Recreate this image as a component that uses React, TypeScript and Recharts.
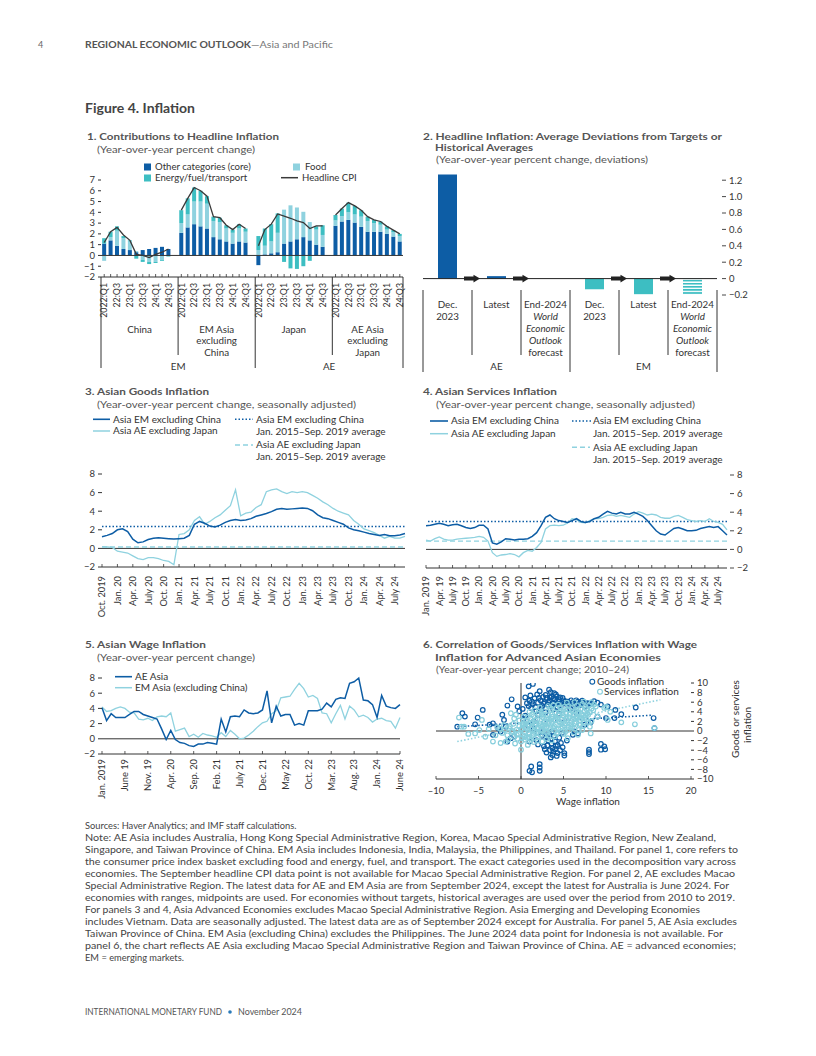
import React from 'react';
import {
  ComposedChart,
  LineChart,
  ScatterChart,
  Bar,
  Line,
  Scatter,
  XAxis,
  YAxis,
  ReferenceLine,
  Cell,
} from 'recharts';

const FONT = 'Lato, "Noto Sans", "DejaVu Sans", sans-serif';
const DARK = '#0D5DA5';
const TEAL = '#3DBEC2';
const LIGHT = '#8FD2DF';
const SERV_RING = '#86CEDC';
const INK = '#333333';
const HEAD = '#3a3a3a';

// ---------- panel 1: contributions to headline inflation ----------
const P1_GROUP_LINES = [['China'], ['EM Asia', 'excluding', 'China'], ['Japan'], ['AE Asia', 'excluding', 'Japan']];
const P1_QUARTERS = ['2022:Q1', '', '22:Q3', '', '23:Q1', '', '23:Q3', '', '24:Q1', '', '24:Q3'];
const P1_YTICKS = [-2, -1, 0, 1, 2, 3, 4, 5, 6, 7];

const CN_CORE = [1.1, 1.4, 0.9, 0.6, 0.5, 0.3, 0.5, 0.6, 0.7, 0.8, 0.6];
const CN_FOOD = [-0.5, 0.3, 1.4, 1.0, 0.8, 0.1, -0.4, -0.6, -0.6, -0.4, 0.0];
const CN_ENERGY = [0.5, 0.5, 0.4, 0.2, 0.1, -0.3, -0.2, -0.2, -0.1, -0.1, -0.1];
const CN_HEAD = [1.2, 2.2, 2.6, 1.9, 1.4, 0.1, 0.0, -0.2, 0.1, 0.3, 0.6];

const EM_CORE = [2.1, 2.6, 2.9, 2.7, 2.5, 1.7, 1.5, 1.3, 1.1, 1.3, 1.2];
const EM_FOOD = [0.9, 1.2, 2.1, 2.3, 2.3, 1.5, 1.6, 1.2, 1.0, 1.2, 1.0];
const EM_ENERGY = [1.2, 1.5, 1.3, 1.0, 0.7, 0.4, 0.4, 0.3, 0.3, 0.4, 0.3];
const EM_HEAD = [4.2, 5.3, 6.3, 6.0, 5.5, 3.6, 3.5, 2.8, 2.4, 2.9, 2.5];

const JP_CORE = [-0.9, 0.1, 0.2, 0.3, 1.1, 1.3, 1.5, 1.7, 1.4, 1.0, 0.8];
const JP_FOOD = [0.5, 0.8, 1.1, 1.8, 3.15, 3.35, 2.95, 2.35, 1.7, 1.4, 1.1];
const JP_ENERGY = [1.3, 1.6, 1.6, 1.8, -0.6, -1.2, -1.25, -1.0, -0.5, 0.3, 0.9];
const JP_HEAD = [0.9, 2.4, 2.9, 3.85, 3.65, 3.45, 3.2, 3.05, 2.5, 2.75, 2.75];

const AE_CORE = [2.75, 3.15, 3.3, 3.05, 2.65, 2.2, 2.2, 2.2, 2.0, 1.75, 1.3];
const AE_FOOD = [0.5, 0.5, 0.7, 0.75, 0.95, 1.0, 0.8, 0.65, 0.4, 0.4, 0.5];
const AE_ENERGY = [0.5, 0.7, 0.9, 0.8, 0.6, 0.4, 0.3, 0.3, 0.3, 0.2, 0.2];
const AE_HEAD = [3.75, 4.35, 4.9, 4.6, 4.2, 3.6, 3.3, 3.15, 2.7, 2.35, 2.0];

const P1_SETS = [
  { core: CN_CORE, food: CN_FOOD, energy: CN_ENERGY, head: CN_HEAD },
  { core: EM_CORE, food: EM_FOOD, energy: EM_ENERGY, head: EM_HEAD },
  { core: JP_CORE, food: JP_FOOD, energy: JP_ENERGY, head: JP_HEAD },
  { core: AE_CORE, food: AE_FOOD, energy: AE_ENERGY, head: AE_HEAD },
];
const P1_SUPER = ['EM', '', 'AE'];

const P1_ROWS: any[] = [];
P1_SETS.forEach((s, g) => {
  P1_QUARTERS.forEach((q, i) => {
    P1_ROWS.push({
      key: `${g}-${i}`,
      lbl: q,
      core: s.core[i],
      food: s.food[i],
      energy: s.energy[i],
      head: s.head[i],
      grp: i === 5 ? P1_GROUP_LINES[g] : undefined,
      grpShift: g < 3,
    });
  });
  if (g < P1_SETS.length - 1) {
    P1_ROWS.push({
      key: `gap${g}`,
      gap: true,
      sep: g === 1 ? 'long' : 'short',
      sup: P1_SUPER[g] || undefined,
      supShift: g === 0,
    });
  }
});

// ---------- panel 2: deviations from targets ----------
const P2_CATS = ['AE Dec', 'AE Latest', 'AE WEO', 'EM Dec', 'EM Latest', 'EM WEO'];
const P2_VALUES = [1.27, 0.03, 0, -0.13, -0.19, -0.19];
const P2_KIND = ['ae', 'ae', 'ae', 'em', 'em', 'emf'];
const P2_ARROW = [null, 0, 0, null, 0, 0];
const P2_LABELS = [
  ['Dec.', '2023'],
  ['Latest'],
  ['End-2024', 'World', 'Economic', 'Outlook', 'forecast'],
  ['Dec.', '2023'],
  ['Latest'],
  ['End-2024', 'World', 'Economic', 'Outlook', 'forecast'],
];
const P2_GROUP = ['', 'AE', '', '', 'EM', ''];
const P2_RTICKS = [-0.2, 0, 0.2, 0.4, 0.6, 0.8, 1.0, 1.2];
const P2_LTICKS = [0.2, 0.4, 0.6, 0.8, 1.0, 1.2];

const P2_ROWS = P2_CATS.map((cat, i) => ({
  cat,
  v: P2_VALUES[i],
  kind: P2_KIND[i],
  arrow: P2_ARROW[i],
  lines: P2_LABELS[i],
  grp: P2_GROUP[i],
}));

// ---------- panel 3: goods inflation (Oct 2019 - Sep 2024) ----------
const P3_TICKS = ['Oct. 2019', 'Jan. 20', 'Apr. 20', 'July 20', 'Oct. 20', 'Jan. 21', 'Apr. 21', 'July 21', 'Oct. 21',
  'Jan. 22', 'Apr. 22', 'July 22', 'Oct. 22', 'Jan. 23', 'Apr. 23', 'July 23', 'Oct. 23', 'Jan. 24', 'Apr. 24', 'July 24'];
const GOODS_EM = [
  1.26, 1.4, 1.6,
  2.0, 2.1, 1.8, 1.0, 0.6, 0.7, 0.95, 1.1, 1.15, 1.1, 1.05, 1.0,
  1.05, 1.1, 1.4, 2.6, 2.9, 2.7, 2.4, 2.3, 2.5, 2.8, 3.0, 3.1,
  3.0, 3.05, 3.2, 3.45, 3.6, 3.75, 3.95, 4.2, 4.3, 4.2, 4.25, 4.3,
  4.35, 4.3, 4.05, 3.6, 3.3, 3.2, 3.0, 2.8, 2.6, 2.2, 2.0, 1.9,
  1.75, 1.6, 1.5, 1.4, 1.5, 1.35, 1.35, 1.45, 1.6,
];
const GOODS_AE = [
  0.2, 0.15, 0.1,
  -0.3, -0.4, -0.5, -0.8, -1.1, -1.2, -1.0, -1.0, -1.1, -1.3, -1.4, -1.75,
  1.5, 1.6, 2.0, 3.0, 3.4, 2.6, 2.9, 3.3, 3.6, 4.1, 4.6, 6.3,
  3.5, 3.8, 3.9, 4.4, 4.7, 6.1, 6.3, 6.4, 6.1, 5.9, 6.1, 6.0,
  6.1, 6.0, 5.7, 5.4, 5.0, 4.7, 4.3, 4.0, 3.8, 3.6, 3.0, 2.6,
  2.1, 1.9, 1.7, 1.4, 1.1, 1.3, 1.1, 1.1, 1.3,
];
const GOODS_EM_AVG = 2.35;
const GOODS_AE_AVG = 0.15;
const P3_ROWS = GOODS_EM.map((v, i) => ({
  m: `m${i}`,
  em: v,
  ae: GOODS_AE[i],
  lbl: i % 3 === 0 ? P3_TICKS[i / 3] : '',
}));

// ---------- panel 4: services inflation (Jan 2019 - Sep 2024) ----------
const P4_TICKS = ['Jan. 2019', 'Apr. 19', 'July 19', 'Oct. 19', 'Jan. 20', 'Apr. 20', 'July 20', 'Oct. 20', 'Jan. 21',
  'Apr. 21', 'July 21', 'Oct. 21', 'Jan. 22', 'Apr. 22', 'July 22', 'Oct. 22', 'Jan. 23', 'Apr. 23', 'July 23',
  'Oct. 23', 'Jan. 24', 'Apr. 24', 'July 24'];
const SERV_EM = [
  2.55, 2.6, 2.7, 2.8, 2.7, 2.55, 2.65, 2.7, 2.55, 2.35, 2.25, 2.35,
  2.6, 2.6, 2.2, 0.7, 0.55, 0.8, 1.15, 1.1, 1.0, 1.1, 1.1, 1.15,
  1.4, 1.8, 2.55, 3.45, 3.7, 3.3, 3.1, 3.0, 2.9, 3.1, 3.3, 3.0,
  2.9, 3.0, 3.3, 3.45, 3.8, 4.1, 3.9, 3.8, 4.0, 3.8, 3.8, 4.0,
  3.8, 3.55, 3.1, 2.55, 2.0, 1.65, 1.55, 1.9, 2.25, 2.35, 2.2, 2.0,
  2.0, 2.05, 2.25, 2.35, 2.45, 2.35, 2.45, 2.0, 1.55,
];
const SERV_AE = [
  1.0, 0.9, 1.15, 1.35, 1.1, 1.0, 1.0, 1.1, 1.15, 1.2, 1.25, 1.3,
  1.4, 1.3, 0.9, -0.35, -0.75, -0.6, -0.55, -0.45, -0.55, -0.8, -0.35, -0.1,
  -0.2, 0.2, 0.75, 2.2, 2.55, 2.6, 2.55, 2.6, 2.85, 3.3, 3.2, 2.9,
  2.85, 3.1, 3.3, 3.3, 3.45, 3.65, 3.7, 3.55, 3.65, 3.55, 3.45, 3.8,
  4.05, 3.9, 3.7, 3.8, 3.7, 3.45, 3.35, 3.35, 3.55, 3.65, 3.45, 3.2,
  3.1, 3.0, 3.1, 3.0, 3.3, 3.0, 2.9, 2.7, 2.1,
];
const SERV_EM_AVG = 3.0;
const SERV_AE_AVG = 0.9;
const P4_ROWS = SERV_EM.map((v, i) => ({
  m: `m${i}`,
  em: v,
  ae: SERV_AE[i],
  lbl: i % 3 === 0 ? P4_TICKS[i / 3] : '',
}));

// ---------- panel 5: wage inflation (Jan 2019 - June 2024) ----------
const P5_TICKS = ['Jan. 2019', 'June 19', 'Nov. 19', 'Apr. 20', 'Sep. 20', 'Feb. 21', 'July 21', 'Dec. 21', 'May 22',
  'Oct. 22', 'Mar. 23', 'Aug. 23', 'Jan. 24', 'June 24'];
const WAGE_AE = [
  4.1, 2.4, 3.3, 2.8, 2.8, 2.8, 3.2, 3.6, 3.6, 3.2, 3.0, 2.8,
  2.6, 1.3, -0.1, 1.1, -0.1, -0.5, -0.6, -0.9, -1.0, -0.7, -0.7, -0.5,
  -0.6, -0.7, 2.6, 0.9, 2.9, 3.0, 2.9, 3.8, 3.4, 3.3, 3.4, 3.8,
  6.3, 2.1, 4.3, 3.0, 3.2, 3.2, 1.8, 2.0, 1.8, 3.7, 3.7, 3.7,
  3.9, 4.7, 4.2, 5.2, 5.4, 5.3, 7.3, 7.5, 8.0, 5.1, 5.0, 4.5,
  2.8, 5.7, 4.3, 4.1, 4.0, 4.5,
];
const WAGE_EM = [
  4.2, 3.6, 3.7, 4.0, 4.2, 4.0, 3.5, 3.4, 2.6, 2.5, 2.7, 2.4,
  2.9, 3.0, 2.9, 3.4, 1.0, 1.2, 1.4, 0.3, 0.6, 0.2, 0.7, 0.5,
  0.4, 0.2, 0.8, 0.3, 1.1, 0.6, 0.0, 0.1, 0.5, 1.0, 1.6, 2.1,
  2.3, 3.3, 3.7, 5.4, 5.5, 5.6, 6.5, 7.3, 6.6, 5.5, 5.7, 5.3,
  3.4, 3.3, 2.1, 3.3, 4.4, 2.6, 4.3, 3.8, 2.9, 3.1, 2.8, 2.2,
  2.6, 2.7, 2.4, 2.3, 1.4, 2.8,
];
const P5_ROWS = WAGE_AE.map((v, i) => ({
  m: `m${i}`,
  ae: v,
  em: WAGE_EM[i],
  lbl: i % 5 === 0 ? P5_TICKS[i / 5] : '',
}));
const Y_TICKS_8 = [-2, 0, 2, 4, 6, 8];

// ---------- panel 6: scatter ----------
const GOODS_PTS_RAW = [
  [-7.5, 0.9], [-6.9, 3.7], [-6.6, 3.0], [-5.4, 1.4], [-5.1, 2.8], [-4.5, 4.4], [-3.7, 1.3], [-3.3, 1.6],
  [-3.3, -0.8], [-2.7, 0.6], [-2.4, -0.1], [-2.2, 3.4], [-2.0, 2.3], [-1.8, 0.9], [-1.6, -2.2], [-1.6, 5.3],
  [-1.2, -1.5], [-1.1, 6.6], [-0.8, -1.1], [-0.4, 5.1], [-0.2, 4.1], [0.3, 2.5], [0.5, 3.2], [0.9, 9.3],
  [1.4, 9.8], [0.7, 5.8], [1.0, 6.3], [1.2, 4.8], [1.4, 5.6], [1.6, 6.8], [1.8, 4.2], [2.0, 5.9], [2.2, 8.3],
  [2.3, 6.4], [2.5, 5.2], [2.6, 7.1], [2.8, 6.0], [3.0, 6.9], [3.1, 5.5], [3.3, 8.6], [3.4, 6.3], [3.5, 8.1],
  [3.6, 7.2], [3.7, 5.8], [3.9, 7.9], [4.0, 6.6], [4.1, 7.6], [4.2, 5.6], [4.4, 6.2], [4.6, 7.0], [4.8, 5.9],
  [5.0, 6.4], [5.3, 5.7], [5.5, 6.1], [5.8, 5.6], [6.1, 6.0], [6.4, 5.5], [6.7, 6.1], [7.0, 5.4], [7.3, 5.9],
  [7.6, 5.2], [8.0, 5.7], [8.6, 6.2], [9.4, 5.5], [10.2, 5.1], [11.1, 4.4], [11.8, 3.5], [13.5, 4.9],
  [10.0, 2.7], [11.0, 2.7], [8.2, 1.8], [7.5, 1.3], [15.6, 2.7], [15.7, 0.6], [9.0, 3.0], [6.5, 3.8],
  [5.8, 4.6], [2.0, 3.3], [1.5, 2.0], [0.8, 1.2], [2.9, 3.9], [3.8, 4.5], [4.5, 3.6],
  [0.2, 4.6], [0.5, 7.0], [0.9, 5.2], [1.1, 7.4], [1.3, 6.1], [1.7, 5.0], [1.9, 7.6], [2.1, 6.9], [2.4, 4.6],
  [2.7, 5.7], [2.9, 7.5], [3.2, 6.0], [3.4, 7.0], [3.6, 5.2], [3.8, 6.8], [4.2, 7.2], [4.3, 5.0], [4.5, 6.6],
  [4.7, 5.4], [4.9, 6.9], [5.2, 6.2], [5.6, 5.2], [5.9, 6.4], [6.2, 5.2], [6.5, 6.4], [6.9, 5.7], [7.2, 6.3],
  [7.8, 5.8], [8.3, 5.6], [9.0, 5.9],
  [2.7, -3.2], [2.8, -3.8], [3.0, -1.2], [3.2, -2.0], [3.3, -0.6], [3.5, -1.6], [3.6, -2.6], [3.7, -3.6],
  [3.8, -4.3], [3.9, -1.0], [4.0, -2.2], [4.1, -3.1], [4.3, -2.9], [4.3, -4.6], [3.7, -5.0], [4.5, -1.4],
  [4.7, -2.5], [4.9, -3.4], [5.1, -4.6], [5.1, -5.1], [5.4, -2.0], [6.1, -0.8], [6.3, -0.1], [6.7, -0.5],
  [1.0, -2.2], [1.8, -1.9], [1.2, -7.4], [1.0, -8.3], [1.3, -8.6], [2.2, -6.9], [2.2, -7.6], [2.2, -8.3],
  [8.0, -3.9], [8.0, -4.4], [8.0, -4.8], [9.4, -2.7], [9.8, -3.2], [9.4, -3.9], [9.9, -3.8], [2.5, -1.0],
  [2.0, -0.4], [1.5, 0.5], [4.8, -0.4], [2.0, -2.8], [3.1, -3.0], [3.4, -4.0], [4.0, -3.8], [4.6, -4.0],
  [3.0, -4.5], [3.5, -5.5], [4.2, -5.2], [2.6, -0.2], [3.6, -0.2],
];
const SERV_PTS_RAW = [
  [-7.3, 2.8], [-7.0, 0.9], [-6.7, 0.9], [-6.2, -0.6], [-5.4, -0.5], [-4.9, 0.2], [-4.6, 2.3], [-4.2, -1.2],
  [-3.8, 0.4], [-3.3, -2.2], [-3.0, -0.9], [-2.8, 0.8], [-2.4, -2.5], [-2.2, -0.4], [-2.0, 1.2], [-1.8, -2.2],
  [-1.6, -0.9], [-1.5, -1.8], [-1.4, 0.6], [-1.2, 3.7], [-1.1, -0.2], [-0.9, 1.5], [-0.8, -1.2], [-0.6, 3.4],
  [-0.5, 0.3], [-0.3, -0.6], [-0.2, 1.0], [0.0, -3.9], [0.0, -2.2], [0.1, 0.5], [0.2, -0.8], [0.3, 1.6],
  [0.4, -0.2], [0.5, 0.9], [0.6, 2.1], [0.7, -1.4], [0.8, -2.9], [0.8, 0.2], [0.9, 1.3], [1.0, -0.6],
  [1.1, 2.6], [1.2, 0.7], [1.3, -1.0], [1.4, 1.9], [1.5, 3.1], [1.6, 0.1], [1.7, 1.2], [1.8, -0.3],
  [1.9, 2.4], [2.0, 0.8], [2.1, 3.6], [2.2, 1.6], [2.3, -0.8], [2.4, 0.4], [2.5, 2.9], [2.6, 1.1],
  [2.7, 4.1], [2.8, 2.0], [2.9, -0.2], [3.0, 0.9], [3.1, 3.3], [3.2, 1.5], [3.3, 2.5], [3.4, 0.2],
  [3.5, 4.4], [3.6, 1.9], [3.7, 3.0], [3.8, 0.7], [3.9, 2.3], [4.0, 3.8], [4.1, 1.3], [4.2, 4.7],
  [4.3, 2.7], [4.4, 0.4], [4.5, 3.4], [4.6, 1.8], [4.7, 4.2], [4.8, 2.4], [4.9, 0.9], [5.0, 3.1],
  [5.1, 5.0], [5.2, 1.6], [5.3, 3.8], [5.4, 2.2], [5.5, -1.5], [5.5, 4.5], [5.6, 0.8], [5.7, 2.9],
  [5.8, 3.6], [5.9, 1.4], [6.0, 4.9], [6.1, 2.5], [6.2, 3.3], [6.3, 0.5], [6.4, 4.2], [6.5, 1.9],
  [6.6, 5.3], [6.7, -0.8], [6.7, 2.8], [6.8, 3.9], [6.9, 1.2], [7.0, 4.6], [7.1, 2.7], [7.2, 5.6],
  [7.3, 3.2], [7.4, 1.7], [7.5, 4.1], [7.6, 5.0], [7.7, 2.4], [7.8, 3.7], [7.9, 3.4], [8.0, 5.3],
  [8.2, -0.5], [8.3, 2.1], [8.5, 4.3], [8.6, 5.5], [8.8, 5.1], [9.0, 3.0], [9.8, 4.8], [10.0, 5.0],
  [10.2, 2.3], [10.5, 4.0], [11.8, 1.8], [13.4, 1.4], [15.7, 0.6], [8.1, 0.9], [7.2, 0.2], [6.2, -0.3],
  [5.0, -0.6], [4.0, -1.1], [3.0, -1.6], [2.0, -1.3], [1.5, -2.3], [0.5, -1.8], [-0.7, -2.6], [0.3, 3.0],
  [1.0, 4.0], [2.2, 4.9], [3.2, 5.2], [4.4, 5.5], [5.4, 5.9], [6.3, 6.0], [7.4, 6.1], [8.3, 6.0],
  [2.5, -2.2], [3.6, -2.0], [1.2, -1.9],
  [-1.0, 0.0], [-0.5, -0.8], [0.0, 0.3], [0.2, 1.2], [0.4, -1.2], [0.6, 0.6], [0.9, -0.3], [1.1, 1.7],
  [1.3, 0.3], [1.5, -0.6], [1.7, 2.2], [1.9, 0.5], [2.1, -0.5], [2.3, 1.2], [2.5, 0.1], [2.7, 2.6],
  [2.9, 1.4], [3.1, -0.4], [3.3, 1.9], [3.5, 0.6], [3.7, 3.5], [3.9, 1.0], [4.1, 2.9], [4.3, -0.3],
  [4.5, 2.0], [4.7, 0.6], [4.9, 3.7], [5.1, 1.2], [5.3, 2.6], [5.5, 0.2], [5.7, 3.4], [5.9, 2.1],
  [6.1, 4.1], [6.3, 1.6], [6.5, 3.0], [6.7, 4.5], [6.9, 2.2], [7.1, 3.5], [7.3, 1.0], [7.5, 2.9],
  [7.7, 4.6], [7.9, 1.9], [8.1, 3.9], [8.3, 4.7], [1.6, 4.3], [2.4, 3.8], [3.4, 4.8], [4.6, 4.9],
  [5.6, 5.2], [0.8, 2.8], [-0.2, 2.2], [-0.8, 2.6], [0.1, -1.5], [1.0, -1.5], [2.0, -2.0], [3.2, -1.0],
  [4.2, -0.6], [5.2, -0.2], [6.0, 0.8], [7.0, 1.4], [3.0, 2.8], [4.0, 0.1], [2.6, 3.4], [5.0, 4.4],
  [6.4, 2.6], [7.6, 3.3], [1.3, 3.5], [0.5, 1.6], [-1.3, 1.0], [-1.9, 0.2], [-2.5, 0.5], [-0.4, -1.6],
  [3.8, 5.4], [4.8, 1.5], [5.8, 1.0], [6.8, 0.2], [2.8, 0.5], [1.8, 1.5], [3.6, 2.6], [4.4, 3.2],
];
const GOODS_PTS = GOODS_PTS_RAW.map(([x, y]) => ({ x, y }));
const SERV_PTS = SERV_PTS_RAW.map(([x, y]) => ({ x, y }));
const GOODS_TREND = [{ x: -7.5, y: 0.9 }, { x: 15.5, y: 3.3 }];
const SERV_TREND = [{ x: -7.5, y: -2.2 }, { x: 16.4, y: 6.5 }];
const P6_XTICKS = [-10, -5, 0, 5, 10, 15, 20];
const P6_YTICKS = [-10, -8, -6, -4, -2, 0, 2, 4, 6, 8, 10];

// ---------- notes ----------
const NOTES = [
  ['Sources: Haver Analytics; and IMF staff calculations.', 0],
  ['Note: AE Asia includes Australia, Hong Kong Special Administrative Region, Korea, Macao Special Administrative Region, New Zealand,', 631],
  ['Singapore, and Taiwan Province of China. EM Asia includes Indonesia, India, Malaysia, the Philippines, and Thailand. For panel 1, core refers to', 653],
  ['the consumer price index basket excluding food and energy, fuel, and transport. The exact categories used in the decomposition vary across', 651],
  ['economies. The September headline CPI data point is not available for Macao Special Administrative Region. For panel 2, AE excludes Macao', 650],
  ['Special Administrative Region. The latest data for AE and EM Asia are from September 2024, except the latest for Australia is June 2024. For', 644],
  ['economies with ranges, midpoints are used. For economies without targets, historical averages are used over the period from 2010 to 2019.', 650],
  ['For panels 3 and 4, Asia Advanced Economies excludes Macao Special Administrative Region. Asia Emerging and Developing Economies', 615],
  ['includes Vietnam. Data are seasonally adjusted. The latest data are as of September 2024 except for Australia. For panel 5, AE Asia excludes', 652],
  ['Taiwan Province of China. EM Asia (excluding China) excludes the Philippines. The June 2024 data point for Indonesia is not available. For', 638],
  ['panel 6, the chart reflects AE Asia excluding Macao Special Administrative Region and Taiwan Province of China. AE = advanced economies;', 651],
  ['EM = emerging markets.', 0],
];

const neg = (v: number) => (v < 0 ? `\u2212${-v}` : `${v}`);
const axisTick = { fontSize: 9.5, fill: INK, fontFamily: FONT };

function Txt({ x, y, s = 9.5, b = false, it = false, c = '#444', a = 'start', len, children }: any) {
  return (
    <text
      x={x}
      y={y + s * 0.34}
      fontSize={s}
      fontWeight={b ? 700 : 400}
      fontStyle={it ? 'italic' : 'normal'}
      fill={c}
      textAnchor={a}
      textLength={len || undefined}
      lengthAdjust={len ? 'spacingAndGlyphs' : undefined}
      fontFamily={FONT}
    >
      {children}
    </text>
  );
}

// right-hand value labels drawn as "– 1.2", with the dash set a little off the plot edge
function makeRightTick(gap: number, fmt: (v: number) => string) {
  return (props: any) => {
    const { x, y, payload } = props;
    return (
      <g>
        <line x1={x + gap} x2={x + gap + 4} y1={y} y2={y} stroke={INK} strokeWidth={0.9} />
        <text x={x + gap + 7} y={y + 3.3} fontSize={9.5} fill={INK} fontFamily={FONT}>
          {fmt(payload.value)}
        </text>
      </g>
    );
  };
}

const P1_BAND = 302 / 47;
function P1Tick(props: any) {
  const { x, y, index } = props;
  const row = P1_ROWS[index];
  if (!row) return <g />;
  const h = P1_BAND / 2;
  return (
    <g fontFamily={FONT}>
      {!row.gap && <line x1={x} x2={x} y1={y} y2={y - 3} stroke={INK} strokeWidth={0.8} />}
      {row.lbl && (
        <text transform={`translate(${x + 3.2},${y + 6}) rotate(-90)`} textAnchor="end" fontSize={8.8} fill={INK}>
          {row.lbl}
        </text>
      )}
      {row.sep && <line x1={x + h} x2={x + h} y1={y} y2={y + (row.sep === 'long' ? 91 : 78)} stroke={INK} />}
      {index === 0 && <line x1={x - h} x2={x - h} y1={y} y2={y + 91} stroke={INK} />}
      {index === P1_ROWS.length - 1 && <line x1={x + h} x2={x + h} y1={y} y2={y + 91} stroke={INK} />}
      {row.grp &&
        row.grp.map((t: string, k: number) => (
          <text key={k} x={x + (row.grpShift ? h : 0)} y={y + 55.5 + 11.7 * k} textAnchor="middle" fontSize={9.8} fill={INK}>
            {t}
          </text>
        ))}
      {row.sup && (
        <text x={x + (row.supShift ? h : 0)} y={y + 93} textAnchor="middle" fontSize={9.8} fill={INK}>
          {row.sup}
        </text>
      )}
    </g>
  );
}

const P2_BAND = 294 / 6;
function P2Tick(props: any) {
  const { x, y, index } = props;
  const row = P2_ROWS[index];
  if (!row) return <g />;
  const h = P2_BAND / 2;
  const start = index === 0 || index === 3;
  return (
    <g fontFamily={FONT}>
      <line x1={x - h} x2={x - h} y1={y - 5} y2={y + (start ? 77 : 60)} stroke={INK} />
      {index === P2_ROWS.length - 1 && <line x1={x + h} x2={x + h} y1={y - 5} y2={y + 77} stroke={INK} />}
      {row.lines.map((t: string, k: number) => (
        <text
          key={k}
          x={x}
          y={y + 12.5 + 12 * k}
          textAnchor="middle"
          fontSize={9.8}
          fontStyle={row.lines.length > 2 && k >= 1 && k <= 3 ? 'italic' : 'normal'}
          fill={INK}
        >
          {t}
        </text>
      ))}
      {row.grp && (
        <text x={x} y={y + 75} textAnchor="middle" fontSize={9.8} fill={INK}>
          {row.grp}
        </text>
      )}
    </g>
  );
}

function ArrowDot(p: any) {
  if (p.payload == null || p.payload.arrow == null || p.cy == null || isNaN(p.cy)) return <g key={`a${p.index}`} />;
  const cx = p.cx - P2_BAND / 2;
  const cy = p.cy;
  const pts = [
    [cx - 8, cy - 2],
    [cx + 1.5, cy - 2],
    [cx + 1.5, cy - 3.8],
    [cx + 8, cy],
    [cx + 1.5, cy + 3.8],
    [cx + 1.5, cy + 2],
    [cx - 8, cy + 2],
  ]
    .map((q) => q.join(','))
    .join(' ');
  return <polygon key={`a${p.index}`} points={pts} fill="#222" />;
}

function makeMonthTick(rows: any[], dy: number) {
  return (props: any) => {
    const { x, y, index } = props;
    const lbl = rows[index] ? rows[index].lbl : '';
    if (!lbl) return <g />;
    return (
      <g>
        <line x1={x} x2={x} y1={y} y2={y - 3} stroke={INK} strokeWidth={0.8} />
        <text
          transform={`translate(${x + 3.3},${y + dy}) rotate(-90)`}
          textAnchor="end"
          fontSize={9.3}
          fill={INK}
          fontFamily={FONT}
        >
          {lbl}
        </text>
      </g>
    );
  };
}
const P3Tick = makeMonthTick(P3_ROWS, 9);
const P4Tick = makeMonthTick(P4_ROWS, 8);
const P5Tick = makeMonthTick(P5_ROWS, 5);

function P6Tick(props: any) {
  const { x, y, payload } = props;
  const v = payload.value;
  return (
    <g>
      <line x1={x} x2={x} y1={y} y2={y - 3} stroke={INK} strokeWidth={0.8} />
      <text x={x} y={y + 14.5} textAnchor="middle" fontSize={9.5} fill={INK} fontFamily={FONT}>
        {v < 0 ? `\u2013${-v}` : v}
      </text>
    </g>
  );
}

const ring = (color: string) => (p: any) =>
  <circle cx={p.cx} cy={p.cy} r={2.3} fill="none" stroke={color} strokeWidth={1.2} />;

const P2RightTick = makeRightTick(5, (v) => (v === 0 ? '0' : v < 0 ? `\u2212${(-v).toFixed(1)}` : v.toFixed(1)));
const P4RightTick = makeRightTick(3, neg);

function Panel1() {
  return (
    <div style={{ position: 'absolute', left: 61, top: 170 }}>
      <ComposedChart
        width={362}
        height={207}
        data={P1_ROWS}
        stackOffset="sign"
        barCategoryGap="18%"
        margin={{ top: 10, right: 0, bottom: 0, left: 0 }}
      >
        <XAxis dataKey="key" interval={0} tick={P1Tick} tickLine={false} tickSize={0} tickMargin={0} height={100} axisLine={{ stroke: INK }} />
        <YAxis yAxisId="l" domain={[-2, 7]} ticks={P1_YTICKS} width={40} axisLine={false} tickSize={3} tickMargin={3}
          tickLine={{ stroke: INK }} tick={axisTick} tickFormatter={neg} interval={0} />
        <YAxis yAxisId="r" orientation="right" domain={[-2, 7]} ticks={P1_YTICKS} width={20} axisLine={false}
          tickSize={3} tickLine={{ stroke: INK }} tick={false} interval={0} />
        <Bar yAxisId="l" dataKey="core" stackId="s" fill={DARK} isAnimationActive={false} />
        <Bar yAxisId="l" dataKey="food" stackId="s" fill={LIGHT} isAnimationActive={false} />
        <Bar yAxisId="l" dataKey="energy" stackId="s" fill={TEAL} isAnimationActive={false} />
        <ReferenceLine yAxisId="l" y={0} stroke={INK} />
        <Line yAxisId="l" dataKey="head" stroke={HEAD} strokeWidth={1.3} dot={false} activeDot={false} isAnimationActive={false} />
      </ComposedChart>
    </div>
  );
}

function Panel2() {
  return (
    <div style={{ position: 'absolute', left: 405, top: 162 }}>
      <ComposedChart width={362} height={218} data={P2_ROWS} margin={{ top: 10, right: 0, bottom: 0, left: 0 }}>
        <defs>
          <pattern id="hatch" width="4" height="3.1" patternUnits="userSpaceOnUse">
            <rect width="4" height="1.7" fill={TEAL} />
          </pattern>
        </defs>
        <XAxis dataKey="cat" interval={0} tick={P2Tick} tickLine={false} axisLine={false} tickSize={0} tickMargin={0} height={85} />
        <YAxis yAxisId="l" domain={[-0.2, 1.3]} ticks={P2_LTICKS} width={18} axisLine={false} tickSize={4}
          tickLine={{ stroke: INK }} tick={false} interval={0} />
        <YAxis yAxisId="r" orientation="right" domain={[-0.2, 1.3]} ticks={P2_RTICKS} width={50} axisLine={false}
          tickSize={0} tickMargin={0} tickLine={false} tick={P2RightTick} interval={0} />
        <Bar yAxisId="r" dataKey="v" barSize={19} isAnimationActive={false}>
          {P2_ROWS.map((r, i) => (
            <Cell key={i} fill={r.kind === 'ae' ? DARK : r.kind === 'em' ? TEAL : 'url(#hatch)'} />
          ))}
        </Bar>
        <ReferenceLine yAxisId="r" y={0} stroke="#222" />
        <Line yAxisId="r" dataKey="arrow" stroke="none" dot={ArrowDot} activeDot={false} isAnimationActive={false} />
      </ComposedChart>
    </div>
  );
}

function Panel3() {
  return (
    <div style={{ position: 'absolute', left: 60, top: 464 }}>
      <LineChart width={359} height={163} data={P3_ROWS} margin={{ top: 10, right: 0, bottom: 0, left: 0 }}>
        <XAxis dataKey="m" interval={0} tick={P3Tick} tickLine={false} tickSize={0} tickMargin={0} height={60} axisLine={{ stroke: INK }} />
        <YAxis yAxisId="l" domain={[-2, 8]} ticks={Y_TICKS_8} width={42} axisLine={false} tickSize={4} tickMargin={3}
          tickLine={{ stroke: INK }} tick={axisTick} tickFormatter={neg} interval={0} />
        <YAxis yAxisId="r" orientation="right" domain={[-2, 8]} ticks={Y_TICKS_8} width={14} axisLine={false}
          tickSize={3} tickLine={{ stroke: INK }} tick={false} interval={0} />
        <ReferenceLine yAxisId="l" y={0} stroke={INK} />
        <ReferenceLine yAxisId="l" y={GOODS_EM_AVG} stroke={DARK} strokeWidth={1.6} strokeDasharray="1.5 2" />
        <ReferenceLine yAxisId="l" y={GOODS_AE_AVG} stroke={LIGHT} strokeWidth={1.3} strokeDasharray="5 3" />
        <Line yAxisId="l" dataKey="ae" stroke={LIGHT} strokeWidth={1.3} dot={false} activeDot={false} isAnimationActive={false} />
        <Line yAxisId="l" dataKey="em" stroke={DARK} strokeWidth={1.5} dot={false} activeDot={false} isAnimationActive={false} />
      </LineChart>
    </div>
  );
}

function Panel4() {
  return (
    <div style={{ position: 'absolute', left: 408, top: 465 }}>
      <LineChart width={365} height={163} data={P4_ROWS} margin={{ top: 10, right: 0, bottom: 0, left: 0 }}>
        <XAxis dataKey="m" interval={0} tick={P4Tick} tickLine={false} tickSize={0} tickMargin={0} height={60} axisLine={{ stroke: INK }} />
        <YAxis yAxisId="l" domain={[-2, 8]} ticks={Y_TICKS_8} width={18} axisLine={false} tickSize={4}
          tickLine={{ stroke: INK }} tick={false} interval={0} />
        <YAxis yAxisId="r" orientation="right" domain={[-2, 8]} ticks={Y_TICKS_8} width={46} axisLine={false}
          tickSize={0} tickMargin={0} tickLine={false} tick={P4RightTick} interval={0} />
        <ReferenceLine yAxisId="r" y={0} stroke={INK} />
        <ReferenceLine yAxisId="r" y={SERV_EM_AVG} stroke={DARK} strokeWidth={1.6} strokeDasharray="1.5 2" />
        <ReferenceLine yAxisId="r" y={SERV_AE_AVG} stroke={LIGHT} strokeWidth={1.3} strokeDasharray="5 3" />
        <Line yAxisId="r" dataKey="ae" stroke={LIGHT} strokeWidth={1.3} dot={false} activeDot={false} isAnimationActive={false} />
        <Line yAxisId="r" dataKey="em" stroke={DARK} strokeWidth={1.5} dot={false} activeDot={false} isAnimationActive={false} />
      </LineChart>
    </div>
  );
}

function Panel5() {
  return (
    <div style={{ position: 'absolute', left: 60, top: 668 }}>
      <LineChart width={354} height={138} data={P5_ROWS} margin={{ top: 10, right: 0, bottom: 0, left: 0 }}>
        <XAxis dataKey="m" interval={0} tick={P5Tick} tickLine={false} tickSize={0} tickMargin={0} height={52} axisLine={{ stroke: INK }} />
        <YAxis yAxisId="l" domain={[-2, 8]} ticks={Y_TICKS_8} width={42} axisLine={false} tickSize={4} tickMargin={3}
          tickLine={{ stroke: INK }} tick={axisTick} tickFormatter={neg} interval={0} />
        <YAxis yAxisId="r" orientation="right" domain={[-2, 8]} ticks={Y_TICKS_8} width={14} axisLine={false}
          tickSize={3} tickLine={{ stroke: INK }} tick={false} interval={0} />
        <ReferenceLine yAxisId="l" y={0} stroke={INK} />
        <Line yAxisId="l" dataKey="em" stroke={LIGHT} strokeWidth={1.3} dot={false} activeDot={false} isAnimationActive={false} />
        <Line yAxisId="l" dataKey="ae" stroke={DARK} strokeWidth={1.5} dot={false} activeDot={false} isAnimationActive={false} />
      </LineChart>
    </div>
  );
}

function Panel6() {
  return (
    <div style={{ position: 'absolute', left: 418, top: 673 }}>
      <ScatterChart width={303} height={136} margin={{ top: 10, right: 0, bottom: 0, left: 0 }}>
        <XAxis type="number" dataKey="x" domain={[-10, 20]} ticks={P6_XTICKS} interval={0} tick={P6Tick} tickLine={false}
          tickSize={0} tickMargin={0} axisLine={{ stroke: INK }} height={30} allowDataOverflow />
        <YAxis yAxisId="l" type="number" dataKey="y" domain={[-10, 10]} ticks={P6_YTICKS} width={18} axisLine={false}
          tickSize={4} tickLine={{ stroke: INK }} tick={false} interval={0} allowDataOverflow />
        <YAxis yAxisId="r" orientation="right" type="number" dataKey="y" domain={[-10, 10]} ticks={P6_YTICKS} width={30}
          axisLine={false} tickSize={3} tickMargin={3} tickLine={{ stroke: INK }} tick={axisTick} interval={0}
          tickFormatter={(v: number) => (v < 0 ? `\u2212${-v}` : `${v}`)} allowDataOverflow />
        <ReferenceLine yAxisId="r" y={0} stroke={INK} />
        <ReferenceLine yAxisId="r" x={0} stroke={INK} />
        <Scatter yAxisId="r" data={GOODS_PTS} shape={ring(DARK)} isAnimationActive={false} />
        <Scatter yAxisId="r" data={SERV_PTS} shape={ring(SERV_RING)} isAnimationActive={false} />
        <ReferenceLine yAxisId="r" segment={GOODS_TREND} stroke={DARK} strokeWidth={1.6} strokeDasharray="1.5 2" />
        <ReferenceLine yAxisId="r" segment={SERV_TREND} stroke={LIGHT} strokeWidth={1.6} strokeDasharray="1.5 2" />
      </ScatterChart>
    </div>
  );
}

function Overlay() {
  const T = '#555';
  return (
    <svg width={816} height={1056} style={{ position: 'absolute', left: 0, top: 0, pointerEvents: 'none' }}>
      {/* header */}
      <Txt x={38} y={45} s={9} c="#666">4</Txt>
      <Txt x={85} y={45} s={9.5} b c={T} len={166}>REGIONAL ECONOMIC OUTLOOK</Txt>
      <Txt x={251} y={45} s={9.5} c="#777" len={82}>—Asia and Pacific</Txt>
      <Txt x={85} y={109} s={13} b c="#444" len={110}>Figure 4. Inflation</Txt>

      {/* panel 1 */}
      <Txt x={87} y={136.5} s={10.3} b c={T} len={192}>1. Contributions to Headline Inflation</Txt>
      <Txt x={97} y={150} s={10} c={T} len={158}>(Year-over-year percent change)</Txt>
      <rect x={144} y={163.5} width={7} height={7} fill={DARK} />
      <Txt x={155} y={166.7} s={9.6} c={INK}>Other categories (core)</Txt>
      <rect x={144} y={174.5} width={7} height={7} fill={TEAL} />
      <Txt x={155} y={177.7} s={9.6} c={INK}>Energy/fuel/transport</Txt>
      <rect x={293} y={163.5} width={7} height={7} fill={LIGHT} />
      <Txt x={305} y={166.7} s={9.6} c={INK}>Food</Txt>
      <line x1={281} x2={298} y1={177.7} y2={177.7} stroke={HEAD} strokeWidth={1.5} />
      <Txt x={302} y={177.7} s={9.6} c={INK}>Headline CPI</Txt>

      {/* panel 2 */}
      <Txt x={423} y={136.5} s={10.3} b c={T} len={299}>2. Headline Inflation: Average Deviations from Targets or</Txt>
      <Txt x={435} y={147.7} s={10.3} b c={T} len={98}>Historical Averages</Txt>
      <Txt x={436} y={160} s={10} c={T} len={212}>(Year-over-year percent change, deviations)</Txt>

      {/* panel 3 */}
      <Txt x={85} y={391.7} s={10.3} b c={T} len={124}>3. Asian Goods Inflation</Txt>
      <Txt x={97} y={404.3} s={10} c={T} len={259}>(Year-over-year percent change, seasonally adjusted)</Txt>
      <line x1={93} x2={110} y1={419.3} y2={419.3} stroke={DARK} strokeWidth={1.6} />
      <Txt x={113} y={419.3} s={10} c={INK}>Asia EM excluding China</Txt>
      <line x1={93} x2={110} y1={431} y2={431} stroke={LIGHT} strokeWidth={1.5} />
      <Txt x={113} y={431} s={10} c={INK}>Asia AE excluding Japan</Txt>
      <line x1={235} x2={253} y1={419.3} y2={419.3} stroke={DARK} strokeWidth={1.6} strokeDasharray="1.5 2" />
      <Txt x={256} y={419.3} s={10} c={INK}>Asia EM excluding China</Txt>
      <Txt x={256} y={431.3} s={10} c={INK}>Jan. 2015–Sep. 2019 average</Txt>
      <line x1={235} x2={253} y1={445} y2={445} stroke={LIGHT} strokeWidth={1.4} strokeDasharray="5 3" />
      <Txt x={256} y={445} s={10} c={INK}>Asia AE excluding Japan</Txt>
      <Txt x={256} y={457} s={10} c={INK}>Jan. 2015–Sep. 2019 average</Txt>

      {/* panel 4 */}
      <Txt x={423} y={391.7} s={10.3} b c={T} len={134}>4. Asian Services Inflation</Txt>
      <Txt x={436} y={404.3} s={10} c={T} len={259}>(Year-over-year percent change, seasonally adjusted)</Txt>
      <line x1={430} x2={448} y1={421} y2={421} stroke={DARK} strokeWidth={1.6} />
      <Txt x={451} y={421} s={10} c={INK}>Asia EM excluding China</Txt>
      <line x1={430} x2={448} y1={433.7} y2={433.7} stroke={LIGHT} strokeWidth={1.5} />
      <Txt x={451} y={433.7} s={10} c={INK}>Asia AE excluding Japan</Txt>
      <line x1={572} x2={591} y1={421} y2={421} stroke={DARK} strokeWidth={1.6} strokeDasharray="1.5 2" />
      <Txt x={593} y={421} s={10} c={INK}>Asia EM excluding China</Txt>
      <Txt x={593} y={434} s={10} c={INK}>Jan. 2015–Sep. 2019 average</Txt>
      <line x1={572} x2={590} y1={447.3} y2={447.3} stroke={LIGHT} strokeWidth={1.4} strokeDasharray="5 3" />
      <Txt x={593} y={447.3} s={10} c={INK}>Asia AE excluding Japan</Txt>
      <Txt x={593} y={460} s={10} c={INK}>Jan. 2015–Sep. 2019 average</Txt>

      {/* panel 5 */}
      <Txt x={85} y={644.3} s={10.3} b c={T} len={121}>5. Asian Wage Inflation</Txt>
      <Txt x={97} y={657.7} s={10} c={T} len={158}>(Year-over-year percent change)</Txt>
      <line x1={115} x2={132} y1={676.7} y2={676.7} stroke={DARK} strokeWidth={1.6} />
      <Txt x={135} y={676.7} s={10} c={INK}>AE Asia</Txt>
      <line x1={115} x2={132} y1={687.7} y2={687.7} stroke={LIGHT} strokeWidth={1.5} />
      <Txt x={135} y={687.7} s={10} c={INK}>EM Asia (excluding  China)</Txt>

      {/* panel 6 */}
      <Txt x={423} y={644} s={10.3} b c={T} len={274}>6. Correlation of Goods/Services Inflation with Wage</Txt>
      <Txt x={435} y={657.7} s={10.3} b c={T} len={226}>Inflation for Advanced Asian Economies</Txt>
      <Txt x={436} y={669.3} s={10} c={T} len={193}>(Year-over-year percent change; 2010–24)</Txt>
      <circle cx={592.3} cy={681.7} r={2.4} fill="none" stroke={DARK} strokeWidth={1.1} />
      <Txt x={597} y={681.7} s={10} c={INK}>Goods inflation</Txt>
      <circle cx={600} cy={691.7} r={2.4} fill="none" stroke={SERV_RING} strokeWidth={1.1} />
      <Txt x={604} y={691.7} s={10} c={INK}>Services inflation</Txt>
      <g transform="translate(736,719) rotate(-90)">
        <Txt x={0} y={0} s={10} c={INK} a="middle">Goods or services</Txt>
      </g>
      <g transform="translate(748,725) rotate(-90)">
        <Txt x={0} y={0} s={10} c={INK} a="middle">inflation</Txt>
      </g>
      <Txt x={588} y={801.7} s={10} c={INK} a="middle">Wage inflation</Txt>

      {/* notes */}
      {NOTES.map(([t, len], i) => (
        <Txt key={i} x={85} y={826 + 12 * i} s={9.3} c="#444" len={len || undefined}>
          {t}
        </Txt>
      ))}

      {/* footer */}
      <Txt x={85} y={1012} s={9} c="#555" len={137}>INTERNATIONAL MONETARY FUND</Txt>
      <circle cx={230} cy={1012} r={1.8} fill="#2a7ab8" />
      <Txt x={238} y={1012} s={9} c="#555" len={64}>November 2024</Txt>
    </svg>
  );
}

export default function App() {
  return (
    <div
      style={{
        position: 'absolute',
        left: 0,
        top: 0,
        width: 816,
        height: 1056,
        overflow: 'hidden',
        background: '#fff',
        fontFamily: FONT,
      }}
    >
      <Panel1 />
      <Panel2 />
      <Panel3 />
      <Panel4 />
      <Panel5 />
      <Panel6 />
      <Overlay />
    </div>
  );
}
